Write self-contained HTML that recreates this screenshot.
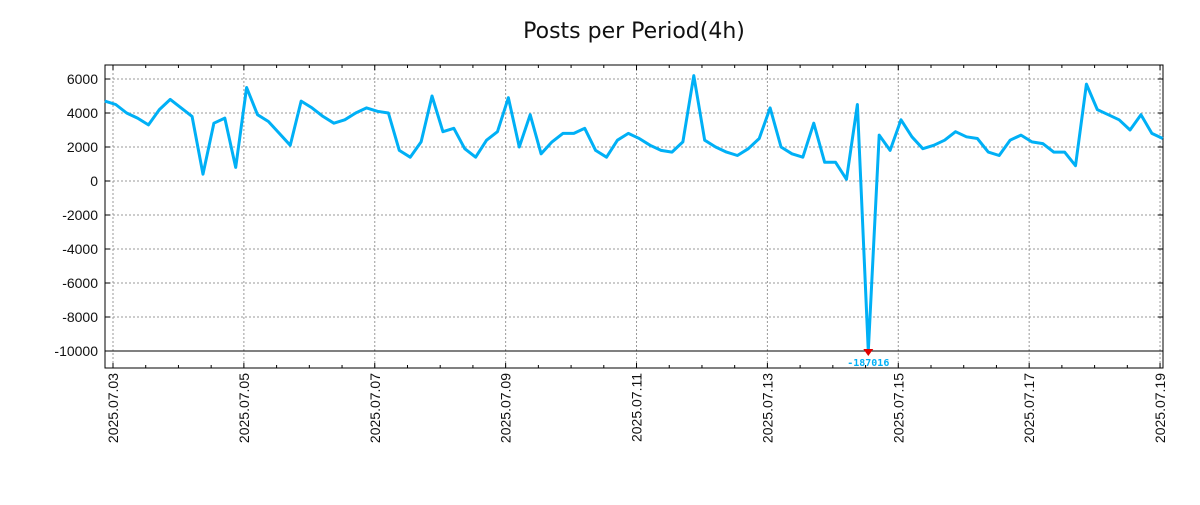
<!DOCTYPE html>
<html><head><meta charset="utf-8"><style>
body{margin:0;background:#fff;font-family:"Liberation Sans","DejaVu Sans",sans-serif}
</style></head><body>
<svg id="chart" width="1200" height="500" xmlns="http://www.w3.org/2000/svg">
<text x="634" y="38" text-anchor="middle" font-size="22" fill="#111" font-family="DejaVu Sans, sans-serif">Posts per Period(4h)</text>
<g id="grid"></g><g id="axes"></g><g id="series"></g>
</svg>
<script>
const values=[4700,4500,4000,3700,3300,4200,4800,4300,3800,400,3400,3700,800,5500,3900,3500,2800,2100,4700,4300,3800,3400,3600,4000,4300,4100,4000,1800,1400,2300,5000,2900,3100,1900,1400,2400,2900,4900,2000,3900,1600,2300,2800,2800,3100,1800,1400,2400,2800,2500,2100,1800,1700,2300,6200,2400,2000,1700,1500,1900,2500,4300,2000,1600,1400,3400,1100,1100,100,4500,-187016,2700,1800,3600,2600,1900,2100,2400,2900,2600,2500,1700,1500,2400,2700,2300,2200,1700,1700,900,5700,4200,3900,3600,3000,3900,2800,2500];
const yTicks=[6000,4000,2000,0,-2000,-4000,-6000,-8000,-10000];
const xTickLabels=["2025.07.03","2025.07.05","2025.07.07","2025.07.09","2025.07.11","2025.07.13","2025.07.15","2025.07.17","2025.07.19"];
const startDay=-0.125, stepDay=1/6, yClamp=-10000;
const L=105,R=1163,T=65,B=368;
const X=d=>113+d*65.44;
const Y=v=>181-v*0.017;
const NS="http://www.w3.org/2000/svg";
function mk(p,tag,a){const e=document.createElementNS(NS,tag);for(const k in a)e.setAttribute(k,a[k]);p.appendChild(e);return e;}
const grid=document.getElementById('grid'),axes=document.getElementById('axes'),ser=document.getElementById('series');
yTicks.forEach(v=>{
 const y=Y(v);
 const g=mk(grid,'line',{x1:L,x2:R,y1:y,y2:y,stroke:'#999','stroke-dasharray':'2,2','stroke-width':1});
 
 
 mk(axes,'line',{x1:L,x2:L+5,y1:y,y2:y,stroke:'#000'});
 mk(axes,'line',{x1:R-5,x2:R,y1:y,y2:y,stroke:'#000'});
 const t=mk(axes,'text',{x:L-7,y:y+5,'text-anchor':'end','font-size':14,fill:'#111'});
 t.textContent=v;
 
 
});
for(let h=-0.5;h<=16.5;h+=0.5){
 const x=X(h); if(x<L||x>R)continue;
 const major=Math.abs(h%2)<1e-9;
 const len=major?5:3;
 mk(axes,'line',{x1:x,x2:x,y1:B,y2:B-len,stroke:'#000'});
 mk(axes,'line',{x1:x,x2:x,y1:T,y2:T+len,stroke:'#000'});
}
xTickLabels.forEach((s,i)=>{
 const x=X(i*2);
 const g=mk(grid,'line',{x1:x,x2:x,y1:T,y2:B,stroke:'#999','stroke-dasharray':'2,2','stroke-width':1});
 
 
 const t=mk(axes,'text',{x:0,y:0,'text-anchor':'end','font-size':14,fill:'#111',transform:`translate(${x+5},${B+5}) rotate(-90)`});
 t.textContent=s;
 
 
});
const frame=mk(axes,'rect',{x:L,y:T,width:R-L,height:B-T,fill:'none',stroke:'#000','stroke-width':1});


const base=mk(axes,'line',{x1:L,x2:R,y1:Y(yClamp),y2:Y(yClamp),stroke:'#000','stroke-width':1});


const pts=values.map((v,i)=>[X(startDay+i*stepDay),Y(Math.max(v,yClamp))]).filter(p=>p[0]<=R+2);
const line=mk(ser,'polyline',{points:pts.map(p=>p.join(',')).join(' '),fill:'none',stroke:'#00b0f6','stroke-width':3,'stroke-linejoin':'round'});


let mi=0;values.forEach((v,i)=>{if(v<values[mi])mi=i;});
const mx=X(startDay+mi*stepDay),my=Y(Math.max(values[mi],yClamp));
const m=mk(ser,'polygon',{points:`${mx-5},${my-2} ${mx+5},${my-2} ${mx},${my+5}`,fill:'#e00000'});


const ml=mk(ser,'text',{x:mx,y:my+15,'text-anchor':'middle','font-size':10,'font-weight':'bold',fill:'#00b0f6','font-family':'DejaVu Sans Mono, monospace'});
ml.textContent=values[mi];


</script>
</body></html>
